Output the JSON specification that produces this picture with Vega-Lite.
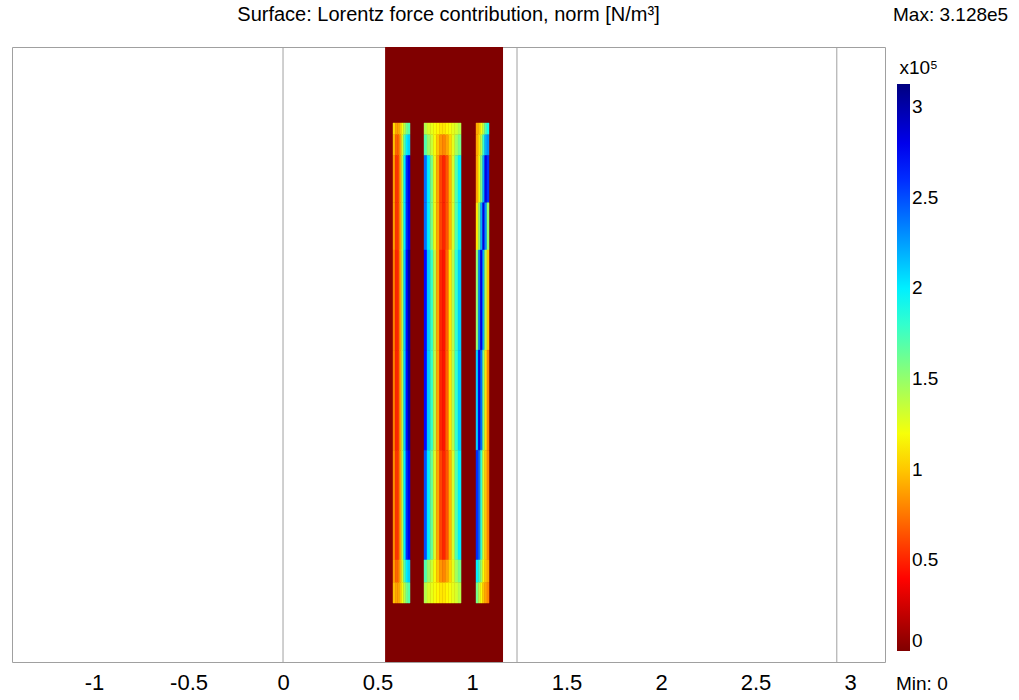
{
  "$schema": "https://vega.github.io/schema/vega-lite/v6.json",
  "width": 873,
  "height": 615,
  "autosize": "none",
  "padding": {"left": 12, "top": 47, "right": 134, "bottom": 38},
  "background": "white",
  "title": {
    "text": "Surface: Lorentz force contribution, norm [N/m³]",
    "anchor": "middle",
    "frame": "group",
    "fontSize": 20,
    "fontWeight": "normal",
    "font": "Liberation Sans, sans-serif",
    "color": "#000000",
    "baseline": "alphabetic",
    "offset": -35
  },
  "datasets": {
    "region": [{"x0": 0.54, "x1": 1.164, "v": 0}],
    "lines": [{"x0": 0}, {"x0": 1.238}, {"x0": 2.93}],
    "bands": [
      {"band": "t1", "y0": 2.79, "y1": 2.852},
      {"band": "t2", "y0": 2.68, "y1": 2.79},
      {"band": "u1", "y0": 2.43, "y1": 2.68},
      {"band": "u2", "y0": 2.18, "y1": 2.43},
      {"band": "m1", "y0": 1.65, "y1": 2.18},
      {"band": "m2", "y0": 1.12, "y1": 1.65},
      {"band": "l", "y0": 0.54, "y1": 1.12},
      {"band": "b2", "y0": 0.42, "y1": 0.54},
      {"band": "b1", "y0": 0.312, "y1": 0.42}
    ],
    "cells": [
      {"x0": 0.582, "x1": 0.593, "t1": 1.1, "t2": 1.0, "u1": 0.9, "u2": 0.9, "m1": 0.8, "m2": 0.8, "l": 0.85, "b2": 0.9, "b1": 1.0},
      {"x0": 0.593, "x1": 0.605, "t1": 0.9, "t2": 0.7, "u1": 0.55, "u2": 0.55, "m1": 0.5, "m2": 0.5, "l": 0.55, "b2": 0.7, "b1": 0.9},
      {"x0": 0.605, "x1": 0.616, "t1": 0.9, "t2": 0.7, "u1": 0.6, "u2": 0.6, "m1": 0.55, "m2": 0.55, "l": 0.6, "b2": 0.75, "b1": 0.9},
      {"x0": 0.616, "x1": 0.627, "t1": 1.0, "t2": 0.9, "u1": 0.9, "u2": 0.9, "m1": 0.9, "m2": 0.9, "l": 0.9, "b2": 0.95, "b1": 1.0},
      {"x0": 0.627, "x1": 0.638, "t1": 1.2, "t2": 1.3, "u1": 1.4, "u2": 1.4, "m1": 1.4, "m2": 1.4, "l": 1.4, "b2": 1.3, "b1": 1.2},
      {"x0": 0.638, "x1": 0.650, "t1": 1.4, "t2": 1.7, "u1": 2.0, "u2": 2.0, "m1": 2.1, "m2": 2.1, "l": 2.0, "b2": 1.7, "b1": 1.4},
      {"x0": 0.650, "x1": 0.661, "t1": 1.6, "t2": 2.0, "u1": 2.6, "u2": 2.6, "m1": 2.7, "m2": 2.7, "l": 2.6, "b2": 2.0, "b1": 1.6},
      {"x0": 0.661, "x1": 0.672, "t1": 1.7, "t2": 2.1, "u1": 2.8, "u2": 2.8, "m1": 3.0, "m2": 3.0, "l": 2.8, "b2": 2.1, "b1": 1.7},
      {"x0": 0.746, "x1": 0.762, "t1": 1.4, "t2": 1.7, "u1": 2.4, "u2": 2.4, "m1": 2.7, "m2": 2.7, "l": 2.5, "b2": 1.7, "b1": 1.4},
      {"x0": 0.762, "x1": 0.779, "t1": 1.3, "t2": 1.5, "u1": 2.0, "u2": 2.0, "m1": 2.1, "m2": 2.1, "l": 2.0, "b2": 1.5, "b1": 1.3},
      {"x0": 0.779, "x1": 0.795, "t1": 1.25, "t2": 1.35, "u1": 1.6, "u2": 1.6, "m1": 1.8, "m2": 1.8, "l": 1.65, "b2": 1.35, "b1": 1.25},
      {"x0": 0.795, "x1": 0.811, "t1": 1.2, "t2": 1.2, "u1": 1.25, "u2": 1.25, "m1": 1.4, "m2": 1.4, "l": 1.3, "b2": 1.2, "b1": 1.2},
      {"x0": 0.811, "x1": 0.828, "t1": 1.15, "t2": 1.0, "u1": 0.9, "u2": 0.9, "m1": 0.9, "m2": 0.9, "l": 0.9, "b2": 1.0, "b1": 1.15},
      {"x0": 0.828, "x1": 0.844, "t1": 1.1, "t2": 0.85, "u1": 0.6, "u2": 0.6, "m1": 0.5, "m2": 0.5, "l": 0.6, "b2": 0.85, "b1": 1.1},
      {"x0": 0.844, "x1": 0.860, "t1": 1.1, "t2": 0.8, "u1": 0.5, "u2": 0.5, "m1": 0.45, "m2": 0.45, "l": 0.5, "b2": 0.8, "b1": 1.1},
      {"x0": 0.860, "x1": 0.877, "t1": 1.15, "t2": 0.9, "u1": 0.65, "u2": 0.65, "m1": 0.7, "m2": 0.7, "l": 0.65, "b2": 0.9, "b1": 1.15},
      {"x0": 0.877, "x1": 0.893, "t1": 1.2, "t2": 1.05, "u1": 0.95, "u2": 0.95, "m1": 1.1, "m2": 1.1, "l": 0.95, "b2": 1.05, "b1": 1.2},
      {"x0": 0.893, "x1": 0.909, "t1": 1.25, "t2": 1.25, "u1": 1.3, "u2": 1.3, "m1": 1.4, "m2": 1.4, "l": 1.3, "b2": 1.25, "b1": 1.25},
      {"x0": 0.909, "x1": 0.926, "t1": 1.3, "t2": 1.45, "u1": 1.7, "u2": 1.7, "m1": 1.8, "m2": 1.8, "l": 1.7, "b2": 1.45, "b1": 1.3},
      {"x0": 0.926, "x1": 0.942, "t1": 1.4, "t2": 1.6, "u1": 2.0, "u2": 2.0, "m1": 2.1, "m2": 2.1, "l": 2.0, "b2": 1.6, "b1": 1.4},
      {"x0": 1.021, "x1": 1.033, "t1": 0.9, "t2": 0.9, "u1": 0.9, "u2": 1.1, "m1": 1.5, "m2": 2.1, "l": 2.6, "b2": 2.0, "b1": 1.6},
      {"x0": 1.033, "x1": 1.044, "t1": 1.0, "t2": 1.1, "u1": 1.2, "u2": 1.5, "m1": 2.3, "m2": 2.8, "l": 2.4, "b2": 1.8, "b1": 1.4},
      {"x0": 1.044, "x1": 1.056, "t1": 1.2, "t2": 1.4, "u1": 1.6, "u2": 2.2, "m1": 2.8, "m2": 2.4, "l": 1.8, "b2": 1.5, "b1": 1.2},
      {"x0": 1.056, "x1": 1.067, "t1": 1.4, "t2": 1.8, "u1": 2.2, "u2": 2.8, "m1": 2.2, "m2": 1.6, "l": 1.3, "b2": 1.2, "b1": 1.0},
      {"x0": 1.067, "x1": 1.079, "t1": 1.7, "t2": 2.2, "u1": 2.8, "u2": 2.3, "m1": 1.4, "m2": 1.1, "l": 1.0, "b2": 1.0, "b1": 0.9},
      {"x0": 1.079, "x1": 1.090, "t1": 1.9, "t2": 2.3, "u1": 2.6, "u2": 1.5, "m1": 1.0, "m2": 0.8, "l": 0.8, "b2": 0.9, "b1": 0.8}
    ]
  },
  "layer": [
    {
      "data": {"name": "region"},
      "mark": {"type": "rect"},
      "encoding": {
        "x": {
          "field": "x0",
          "type": "quantitative",
          "scale": {"domain": [-1.434, 3.185], "nice": false, "zero": false},
          "axis": {
            "values": [-1, -0.5, 0, 0.5, 1, 1.5, 2, 2.5, 3],
            "ticks": false,
            "tickSize": 0,
            "domain": false,
            "grid": false,
            "title": null,
            "labelFontSize": 22,
            "labelFont": "Liberation Sans, sans-serif",
            "labelColor": "#000000",
            "labelPadding": 10,
            "labelFlush": false,
            "labelOverlap": false,
            "labelExpr": "toString(datum.value)"
          }
        },
        "x2": {"field": "x1"},
        "color": {
          "field": "v",
          "type": "quantitative",
          "scale": {
            "domain": [0, 0.391, 0.782, 1.173, 1.564, 1.955, 2.346, 2.737, 3.128],
            "range": ["#800000", "#ff0000", "#ff8000", "#ffff00", "#80ff80", "#00ffff", "#0080ff", "#0000ff", "#000080"],
            "interpolate": "rgb"
          },
          "legend": {
            "type": "gradient",
            "orient": "none",
            "legendX": 885,
            "legendY": 12,
            "direction": "vertical",
            "gradientLength": 567,
            "gradientThickness": 13,
            "gradientStrokeWidth": 0,
            "title": "x10⁵",
            "titleFont": "Liberation Sans, sans-serif",
            "titleFontSize": 19,
            "titleFontWeight": "normal",
            "titleColor": "#000000",
            "titlePadding": 6,
            "titleAnchor": "end",
            "labelFont": "Liberation Sans, sans-serif",
            "labelFontSize": 19,
            "labelColor": "#000000",
            "labelOffset": 2,
            "labelOverlap": false,
            "labelExpr": "toString(datum.value)",
            "values": [0, 0.5, 1, 1.5, 2, 2.5, 3]
          }
        }
      }
    },
    {
      "data": {"name": "lines"},
      "mark": {"type": "rule", "color": "#a0a0a0", "strokeWidth": 1},
      "encoding": {
        "x": {"field": "x0", "type": "quantitative"}
      }
    },
    {
      "data": {"name": "cells"},
      "transform": [
        {"fold": ["t1", "t2", "u1", "u2", "m1", "m2", "l", "b2", "b1"], "as": ["band", "v"]},
        {"lookup": "band", "from": {"data": {"name": "bands"}, "key": "band", "fields": ["y0", "y1"]}}
      ],
      "mark": {"type": "rect", "strokeWidth": 0.4, "stroke": {"expr": "scale('color', datum.v)"}},
      "encoding": {
        "x": {"field": "x0", "type": "quantitative"},
        "x2": {"field": "x1"},
        "y": {
          "field": "y0",
          "type": "quantitative",
          "scale": {"domain": [0, 3.254], "nice": false, "zero": false},
          "axis": null
        },
        "y2": {"field": "y1"},
        "color": {"field": "v", "type": "quantitative"}
      }
    },
    {
      "data": {"values": [{"label": "Max: 3.128e5"}]},
      "mark": {"type": "text", "align": "left", "baseline": "middle", "fontSize": 19, "font": "Liberation Sans, sans-serif", "color": "#000000"},
      "encoding": {
        "x": {"datum": 3.2275, "type": "quantitative"},
        "y": {"datum": 3.423, "type": "quantitative"},
        "text": {"field": "label"}
      }
    },
    {
      "data": {"values": [{"label": "Min: 0"}]},
      "mark": {"type": "text", "align": "left", "baseline": "middle", "fontSize": 19, "font": "Liberation Sans, sans-serif", "color": "#000000"},
      "encoding": {
        "x": {"datum": 3.243, "type": "quantitative"},
        "y": {"datum": -0.116, "type": "quantitative"},
        "text": {"field": "label"}
      }
    }
  ],
  "config": {
    "view": {"stroke": "#a0a0a0", "strokeWidth": 1}
  }
}
